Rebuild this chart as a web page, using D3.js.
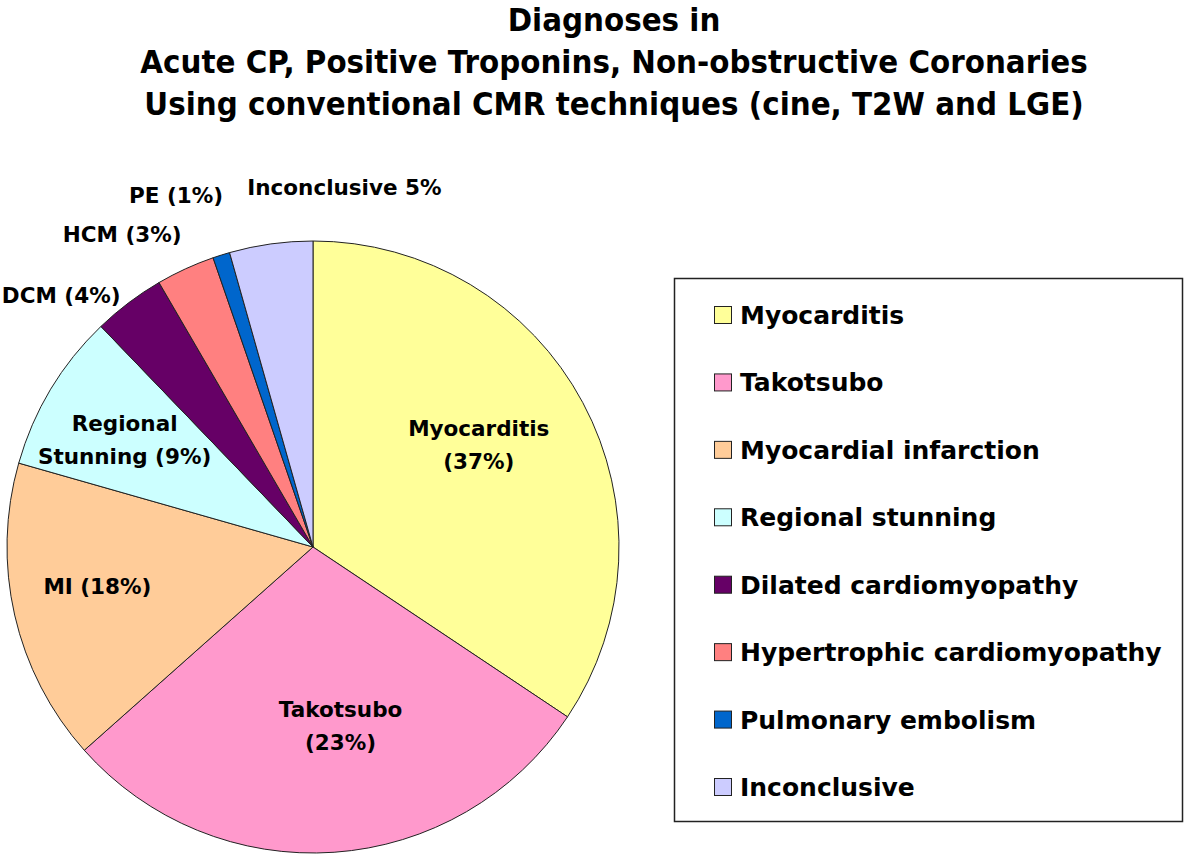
<!DOCTYPE html>
<html>
<head>
<meta charset="utf-8">
<script src="https://cdn.jsdelivr.net/npm/d3@7"></script>
<style>
  html, body { margin: 0; padding: 0; background: #fff; }
  svg { display: block; }
  text { font-family: "DejaVu Sans", Verdana, sans-serif; font-weight: bold; fill: #000; }
</style>
</head>
<body>
<svg id="chart" width="1200" height="860"></svg>
<script>
// ---- data ----
const titleLines = [
  "Diagnoses in",
  "Acute CP, Positive Troponins, Non-obstructive Coronaries",
  "Using conventional CMR techniques (cine, T2W and LGE)"
];
const categories = [
  "Myocarditis", "Takotsubo", "Myocardial infarction", "Regional stunning",
  "Dilated cardiomyopathy", "Hypertrophic cardiomyopathy", "Pulmonary embolism", "Inconclusive"
];
// slice sizes as drawn (percent of the pie)
const values = [34.4, 29.1, 16.0, 8.4, 3.8, 3.1, 0.9, 4.4];
// slice data labels as printed in the chart
const sliceLabels = [
  ["Myocarditis", "(37%)"],
  ["Takotsubo", "(23%)"],
  ["MI (18%)"],
  ["Regional", "Stunning (9%)"],
  ["DCM (4%)"],
  ["HCM (3%)"],
  ["PE (1%)"],
  ["Inconclusive 5%"]
];
const colors = ["#FFFF99", "#FF99CC", "#FFCC99", "#CCFFFF", "#660066", "#FF8080", "#0066CC", "#CCCCFF"];

// ---- layout ----
const svg = d3.select("#chart");
const cx = 313, cy = 547, R = 306;
// label placement: [radius factor, angle nudge in degrees from slice mid-angle]
const labelPlacement = [[0.637, -3.6], [0.592, -4.8], [0.716, 2.6], [0.709, -1.3],
                        [1.163, -8.0], [1.196, -6.8], [1.235, -3.8], [1.181, 12.9]];

// Title
const titleG = svg.append("g");
const titleBase = [31, 73, 115];
const titleTexts = titleG.selectAll("text").data(titleLines).join("text")
  .attr("text-anchor", "middle")
  .style("font-size", "32px")
  .text(d => d);
let maxLen = 0;
titleTexts.each(function() { maxLen = Math.max(maxLen, this.getComputedTextLength()); });
const sx = 948 / maxLen;
titleTexts.attr("transform", (d, i) => `translate(614,${titleBase[i]}) scale(${sx},1)`);

// Pie
const pie = d3.pie().sort(null).value(d => d)
  .startAngle(0).endAngle(2 * Math.PI);
const arcs = pie(values);
const arc = d3.arc().innerRadius(0).outerRadius(R);
const color = d3.scaleOrdinal().domain(categories).range(colors);

const pieG = svg.append("g").attr("transform", `translate(${cx},${cy})`);
pieG.selectAll("path").data(arcs).join("path")
  .attr("d", arc)
  .attr("fill", (d, i) => color(categories[i]))
  .attr("stroke", "#222")
  .attr("stroke-width", 1)
  .attr("stroke-linejoin", "round");

// Slice labels
const fs = 21.5, lh = 33;
const labG = pieG.append("g");
arcs.forEach((d, i) => {
  const [rf, nudge] = labelPlacement[i];
  const a = (d.startAngle + d.endAngle) / 2 + nudge * Math.PI / 180;
  const r = rf * R;
  const x = r * Math.sin(a), y = -r * Math.cos(a);
  const lines = sliceLabels[i];
  const t = labG.append("text")
    .attr("text-anchor", "middle")
    .style("font-size", fs + "px");
  lines.forEach((ln, j) => {
    t.append("tspan")
      .attr("x", x)
      .attr("y", y - (lines.length - 1) * lh / 2 + j * lh)
      .attr("dy", "0.36em")
      .text(ln);
  });
});

// Legend
const legG = svg.append("g");
legG.append("rect")
  .attr("x", 674.5).attr("y", 278.5).attr("width", 508).attr("height", 543)
  .attr("fill", "#fff").attr("stroke", "#222").attr("stroke-width", 1.5);
const ly = d3.scalePoint().domain(categories).range([315, 787]);
const items = legG.selectAll("g.item").data(categories).join("g")
  .attr("class", "item")
  .attr("transform", d => `translate(714,${ly(d)})`);
items.append("rect")
  .attr("x", 0.5).attr("y", -8.5).attr("width", 17).attr("height", 17)
  .attr("fill", d => color(d)).attr("stroke", "#222").attr("stroke-width", 1);
items.append("text")
  .attr("x", 26).attr("dy", "0.36em")
  .style("font-size", "25px")
  .text(d => d);
</script>
</body>
</html>
